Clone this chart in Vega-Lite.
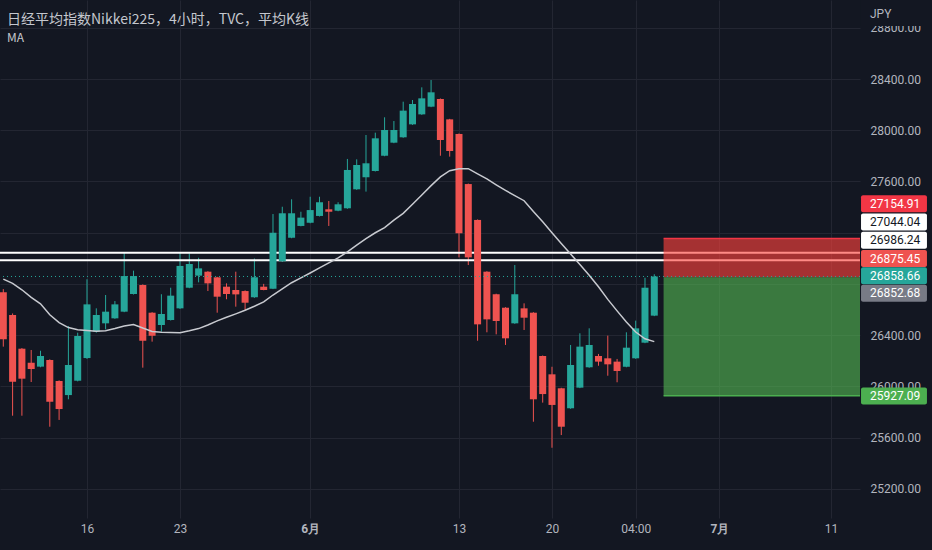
{
  "$schema": "https://vega.github.io/schema/vega-lite/v6.json",
  "width": 860,
  "height": 518,
  "autosize": {"type": "none"},
  "padding": {"left": 0, "top": 0, "right": 72, "bottom": 32},
  "background": "#131722",
  "config": {"view": {"stroke": null}, "font": "Roboto"},
  "title": {
    "text": "日经平均指数Nikkei225，4小时，TVC，平均K线",
    "subtitle": "MA",
    "anchor": "start",
    "frame": "group",
    "offset": -44,
    "dx": 7,
    "font": "Noto Sans CJK SC",
    "fontSize": 14,
    "fontWeight": "normal",
    "color": "#c4c7ce",
    "subtitleFont": "Noto Sans CJK SC",
    "subtitleFontSize": 12,
    "subtitleColor": "#c4c7ce",
    "subtitlePadding": 6
  },
  "datasets": {
    "bars": [
      {"i": -9, "o": 26735, "h": 26760, "l": 26311, "c": 26368, "ma": 26838},
      {"i": -8, "o": 26558, "h": 26570, "l": 25772, "c": 26037, "ma": 26805},
      {"i": -7, "o": 26295, "h": 26300, "l": 25772, "c": 26061, "ma": 26755},
      {"i": -6, "o": 26186, "h": 26285, "l": 26035, "c": 26136, "ma": 26695},
      {"i": -5, "o": 26155, "h": 26279, "l": 26150, "c": 26238, "ma": 26645},
      {"i": -4, "o": 26207, "h": 26212, "l": 25686, "c": 25881, "ma": 26560},
      {"i": -3, "o": 26043, "h": 26048, "l": 25739, "c": 25824, "ma": 26498},
      {"i": -2, "o": 25933, "h": 26472, "l": 25900, "c": 26168, "ma": 26460},
      {"i": -1, "o": 26045, "h": 26420, "l": 26040, "c": 26394, "ma": 26443},
      {"i": 0, "o": 26222, "h": 26837, "l": 26215, "c": 26641, "ma": 26437},
      {"i": 1, "o": 26428, "h": 26610, "l": 26420, "c": 26558, "ma": 26431},
      {"i": 2, "o": 26493, "h": 26714, "l": 26446, "c": 26584, "ma": 26435},
      {"i": 3, "o": 26532, "h": 26667, "l": 26528, "c": 26641, "ma": 26452},
      {"i": 4, "o": 26584, "h": 27047, "l": 26580, "c": 26862, "ma": 26472},
      {"i": 5, "o": 26722, "h": 26904, "l": 26718, "c": 26862, "ma": 26484},
      {"i": 6, "o": 26792, "h": 26797, "l": 26147, "c": 26357, "ma": 26456},
      {"i": 7, "o": 26576, "h": 26580, "l": 26350, "c": 26396, "ma": 26430},
      {"i": 8, "o": 26480, "h": 26720, "l": 26428, "c": 26566, "ma": 26424},
      {"i": 9, "o": 26519, "h": 26771, "l": 26515, "c": 26709, "ma": 26422},
      {"i": 10, "o": 26610, "h": 27047, "l": 26605, "c": 26941, "ma": 26420},
      {"i": 11, "o": 26771, "h": 27039, "l": 26767, "c": 26956, "ma": 26435},
      {"i": 12, "o": 26865, "h": 27005, "l": 26813, "c": 26922, "ma": 26452},
      {"i": 13, "o": 26896, "h": 26900, "l": 26745, "c": 26805, "ma": 26480},
      {"i": 14, "o": 26852, "h": 26856, "l": 26576, "c": 26701, "ma": 26512},
      {"i": 15, "o": 26779, "h": 26805, "l": 26681, "c": 26722, "ma": 26540},
      {"i": 16, "o": 26753, "h": 26896, "l": 26623, "c": 26719, "ma": 26567},
      {"i": 17, "o": 26745, "h": 26750, "l": 26597, "c": 26654, "ma": 26595},
      {"i": 18, "o": 26696, "h": 26999, "l": 26692, "c": 26852, "ma": 26626},
      {"i": 19, "o": 26779, "h": 26801, "l": 26751, "c": 26753, "ma": 26660},
      {"i": 20, "o": 26763, "h": 27346, "l": 26760, "c": 27200, "ma": 26714},
      {"i": 21, "o": 26977, "h": 27403, "l": 26973, "c": 27352, "ma": 26762},
      {"i": 22, "o": 27161, "h": 27461, "l": 27157, "c": 27352, "ma": 26810},
      {"i": 23, "o": 27253, "h": 27364, "l": 27250, "c": 27318, "ma": 26848},
      {"i": 24, "o": 27278, "h": 27481, "l": 27274, "c": 27377, "ma": 26886},
      {"i": 25, "o": 27331, "h": 27481, "l": 27327, "c": 27438, "ma": 26926},
      {"i": 26, "o": 27383, "h": 27448, "l": 27253, "c": 27364, "ma": 26965},
      {"i": 27, "o": 27372, "h": 27438, "l": 27368, "c": 27422, "ma": 27004},
      {"i": 28, "o": 27391, "h": 27776, "l": 27387, "c": 27690, "ma": 27050},
      {"i": 29, "o": 27539, "h": 27773, "l": 27535, "c": 27729, "ma": 27104},
      {"i": 30, "o": 27633, "h": 27963, "l": 27521, "c": 27742, "ma": 27155},
      {"i": 31, "o": 27682, "h": 27981, "l": 27678, "c": 27937, "ma": 27200},
      {"i": 32, "o": 27801, "h": 28101, "l": 27797, "c": 28002, "ma": 27240},
      {"i": 33, "o": 27903, "h": 28072, "l": 27899, "c": 28002, "ma": 27299},
      {"i": 34, "o": 27945, "h": 28223, "l": 27941, "c": 28153, "ma": 27351},
      {"i": 35, "o": 28046, "h": 28236, "l": 28042, "c": 28205, "ma": 27423},
      {"i": 36, "o": 28124, "h": 28335, "l": 28120, "c": 28249, "ma": 27495},
      {"i": 37, "o": 28184, "h": 28392, "l": 28180, "c": 28296, "ma": 27568},
      {"i": 38, "o": 28244, "h": 28248, "l": 27801, "c": 27924, "ma": 27636},
      {"i": 39, "o": 28085, "h": 28089, "l": 27794, "c": 27838, "ma": 27684},
      {"i": 40, "o": 27971, "h": 27975, "l": 27008, "c": 27196, "ma": 27700},
      {"i": 41, "o": 27580, "h": 27584, "l": 26948, "c": 27008, "ma": 27700},
      {"i": 42, "o": 27300, "h": 27304, "l": 26357, "c": 26485, "ma": 27660},
      {"i": 43, "o": 26896, "h": 26900, "l": 26423, "c": 26524, "ma": 27620},
      {"i": 44, "o": 26720, "h": 26724, "l": 26407, "c": 26511, "ma": 27574},
      {"i": 45, "o": 26615, "h": 26619, "l": 26324, "c": 26376, "ma": 27530},
      {"i": 46, "o": 26493, "h": 26948, "l": 26489, "c": 26720, "ma": 27490},
      {"i": 47, "o": 26610, "h": 26649, "l": 26441, "c": 26537, "ma": 27450},
      {"i": 48, "o": 26576, "h": 26580, "l": 25725, "c": 25900, "ma": 27365},
      {"i": 49, "o": 26238, "h": 26242, "l": 25874, "c": 25941, "ma": 27285},
      {"i": 50, "o": 26095, "h": 26154, "l": 25522, "c": 25856, "ma": 27200},
      {"i": 51, "o": 25986, "h": 25990, "l": 25621, "c": 25686, "ma": 27117},
      {"i": 52, "o": 25830, "h": 26324, "l": 25826, "c": 26168, "ma": 27035},
      {"i": 53, "o": 25991, "h": 26415, "l": 25987, "c": 26311, "ma": 26953},
      {"i": 54, "o": 26150, "h": 26454, "l": 26146, "c": 26324, "ma": 26868},
      {"i": 55, "o": 26238, "h": 26254, "l": 26162, "c": 26194, "ma": 26778},
      {"i": 56, "o": 26220, "h": 26397, "l": 26084, "c": 26173, "ma": 26680},
      {"i": 57, "o": 26194, "h": 26215, "l": 26033, "c": 26121, "ma": 26590},
      {"i": 58, "o": 26154, "h": 26423, "l": 26150, "c": 26303, "ma": 26503},
      {"i": 59, "o": 26220, "h": 26514, "l": 26216, "c": 26454, "ma": 26425},
      {"i": 60, "o": 26342, "h": 26849, "l": 26338, "c": 26771, "ma": 26372},
      {"i": 61, "o": 26553, "h": 26876, "l": 26549, "c": 26858.66, "ma": 26350}
    ],
    "levels": [{"p": 27044.04}, {"p": 26986.24}],
    "last": [{"p": 26858.66}],
    "zones": [
      {"kind": "stop", "lo": 26852.68, "hi": 27154.91},
      {"kind": "target", "lo": 25927.09, "hi": 26852.68}
    ],
    "edges": [
      {"kind": "stop", "p": 27154.91},
      {"kind": "target", "p": 25927.09}
    ],
    "tags": [
      {"kind": "stop", "price": 27154.91, "tagAt": 27426.7},
      {"kind": "line", "price": 27044.04, "tagAt": 27283.9},
      {"kind": "line", "price": 26986.24, "tagAt": 27141.8},
      {"kind": "alert", "price": 26875.45, "tagAt": 26999.0},
      {"kind": "last", "price": 26858.66, "tagAt": 26864.8},
      {"kind": "entry", "price": 26852.68, "tagAt": 26727.4},
      {"kind": "target", "price": 25927.09, "tagAt": 25925.8}
    ]
  },
  "layer": [
    {
      "data": {"name": "bars"},
      "mark": {"type": "rule", "strokeWidth": 1, "clip": true},
      "encoding": {
        "x": {
          "field": "i", "type": "quantitative",
          "scale": {"domain": [-9.355, 83.12], "nice": false, "zero": false, "padding": 0},
          "axis": {
            "title": null,
            "values": [0, 10, 24, 40, 50, 59, 68, 80],
            "labelExpr": "datum.value == 0 ? '16' : datum.value == 10 ? '23' : datum.value == 24 ? '6月' : datum.value == 40 ? '13' : datum.value == 50 ? '20' : datum.value == 59 ? '04:00' : datum.value == 68 ? '7月' : '11'",
            "labelFontWeight": {"condition": {"test": "datum.value == 24 || datum.value == 68", "value": "bold"}, "value": "normal"},
            "grid": true, "gridColor": "#232632", "gridWidth": 1,
            "domain": false, "ticks": false,
            "labelColor": "#b2b5be", "labelFontSize": 12, "labelPadding": 5,
            "labelFont": "Roboto"
          }
        },
        "y": {
          "field": "l", "type": "quantitative",
          "scale": {"domain": [24973.6, 29016.6], "nice": false, "zero": false, "padding": 0},
          "axis": {
            "title": null, "orient": "right",
            "values": [25200, 25600, 26000, 26400, 26800, 27200, 27600, 28000, 28400, 28800],
            "format": ".2f",
            "labelExpr": "datum.value == 26800 || datum.value == 27200 ? '' : datum.label",
            "grid": true, "gridColor": "#232632", "gridWidth": 1,
            "domain": false, "ticks": false,
            "labelColor": "#b2b5be", "labelFontSize": 12, "labelPadding": 10,
            "labelAlign": "left", "labelFont": "Roboto"
          }
        },
        "y2": {"field": "h"},
        "color": {"condition": {"test": "datum.c >= datum.o", "value": "#26a69a"}, "value": "#ef5350"}
      }
    },
    {
      "data": {"name": "levels"},
      "mark": {"type": "rule", "color": "#ffffff", "strokeWidth": 2},
      "encoding": {"y": {"field": "p", "type": "quantitative"}}
    },
    {
      "data": {"name": "zones"},
      "mark": {"type": "rect", "clip": true},
      "encoding": {
        "x": {"datum": 62},
        "x2": {"datum": 83.12},
        "y": {"field": "lo", "type": "quantitative"},
        "y2": {"field": "hi"},
        "color": {"condition": {"test": "datum.kind == 'stop'", "value": "#ff423c"}, "value": "#55bb54"},
        "opacity": {"condition": {"test": "datum.kind == 'stop'", "value": 0.62}, "value": 0.6}
      }
    },
    {
      "data": {"name": "edges"},
      "mark": {"type": "rule", "strokeWidth": 1.5},
      "encoding": {
        "x": {"datum": 62},
        "x2": {"datum": 83.12},
        "y": {"field": "p", "type": "quantitative"},
        "color": {"condition": {"test": "datum.kind == 'stop'", "value": "#f23645"}, "value": "#4caf50"}
      }
    },
    {
      "data": {"name": "bars"},
      "mark": {"type": "bar", "size": 7, "clip": true},
      "encoding": {
        "x": {"field": "i", "type": "quantitative"},
        "y": {"field": "o", "type": "quantitative"},
        "y2": {"field": "c"},
        "color": {"condition": {"test": "datum.c >= datum.o", "value": "#26a69a"}, "value": "#ef5350"}
      }
    },
    {
      "data": {"name": "bars"},
      "mark": {"type": "line", "color": "#c8cad0", "strokeWidth": 1.5, "clip": true},
      "encoding": {
        "x": {"field": "i", "type": "quantitative"},
        "y": {"field": "ma", "type": "quantitative"}
      }
    },
    {
      "data": {"name": "last"},
      "mark": {"type": "rule", "color": "#26a69a", "strokeWidth": 1, "strokeDash": [1, 3]},
      "encoding": {"y": {"field": "p", "type": "quantitative"}}
    },
    {
      "data": {"name": "tags"},
      "mark": {"type": "bar", "size": 17, "cornerRadius": 2},
      "encoding": {
        "x": {"datum": 83.23},
        "x2": {"datum": 90.32},
        "y": {"field": "tagAt", "type": "quantitative"},
        "color": {
          "condition": [
            {"test": "datum.kind == 'stop'", "value": "#f23645"},
            {"test": "datum.kind == 'line'", "value": "#ffffff"},
            {"test": "datum.kind == 'alert'", "value": "#ef5350"},
            {"test": "datum.kind == 'last'", "value": "#26a69a"},
            {"test": "datum.kind == 'entry'", "value": "#787b86"}
          ],
          "value": "#4caf50"
        }
      }
    },
    {
      "data": {"name": "tags"},
      "mark": {"type": "text", "align": "left", "baseline": "middle", "fontSize": 12, "font": "Roboto"},
      "encoding": {
        "x": {"datum": 84.19},
        "y": {"field": "tagAt", "type": "quantitative"},
        "text": {"field": "price", "type": "quantitative", "format": ".2f"},
        "color": {"condition": {"test": "datum.kind == 'line'", "value": "#131722"}, "value": "#ffffff"}
      }
    },
    {
      "data": {"values": [{}]},
      "mark": {"type": "rect", "color": "#131722"},
      "encoding": {
        "x": {"datum": 83.2},
        "x2": {"datum": 91.0},
        "y": {"datum": 28813.7},
        "y2": {"datum": 29016.6}
      }
    },
    {
      "data": {"values": [{"unit": "JPY"}]},
      "mark": {"type": "text", "align": "left", "baseline": "middle", "fontSize": 12, "font": "Roboto", "color": "#b2b5be"},
      "encoding": {
        "x": {"datum": 84.19},
        "y": {"datum": 28907.3},
        "text": {"field": "unit"}
      }
    }
  ]
}
